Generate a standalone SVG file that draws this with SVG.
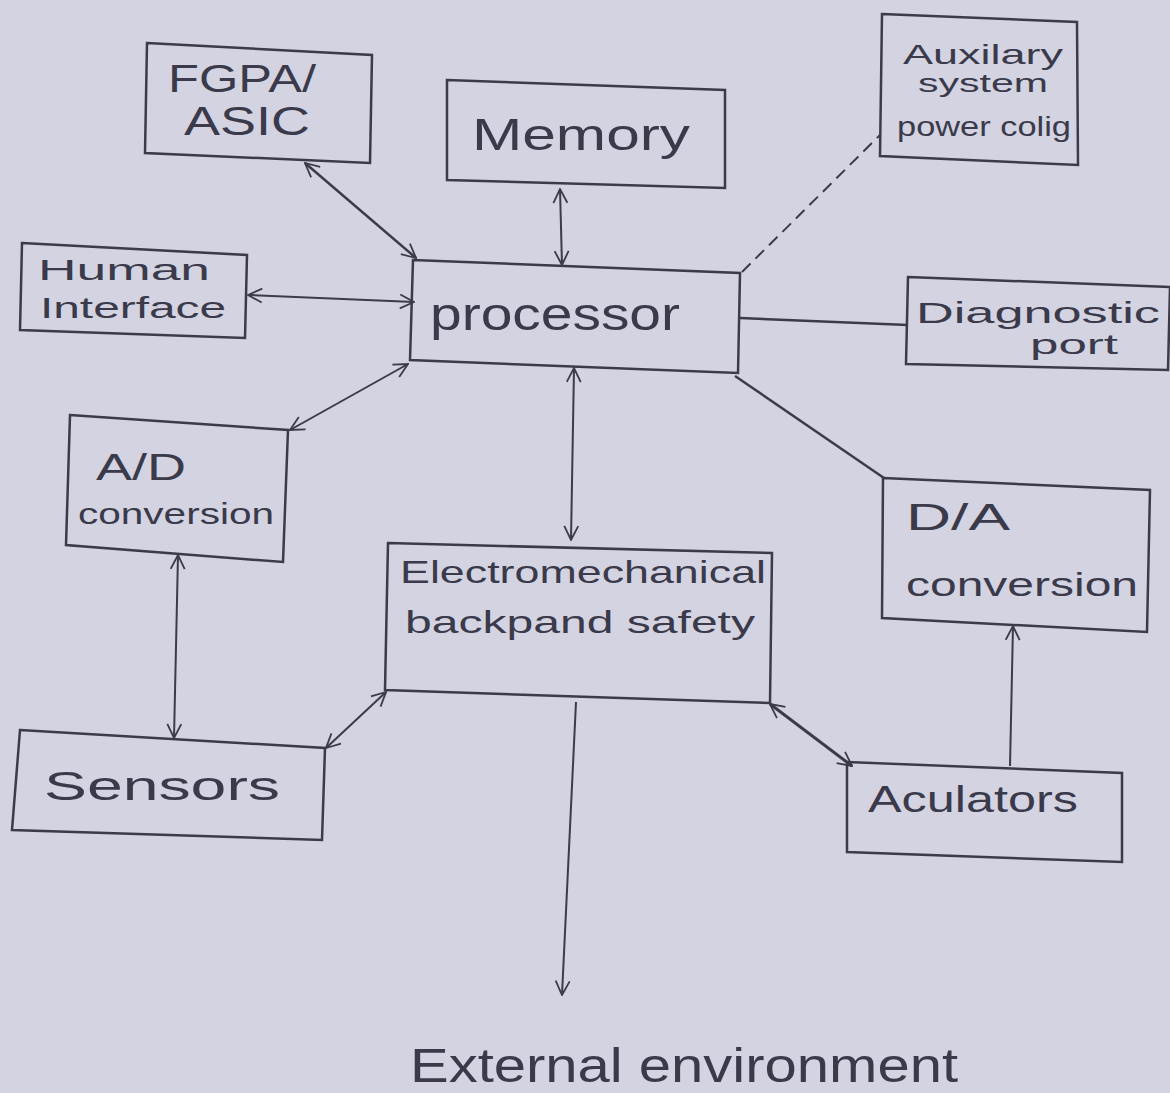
<svg xmlns="http://www.w3.org/2000/svg" width="1170" height="1093" viewBox="0 0 1170 1093">
<style>
.box{fill:none;stroke:#3b3b4a;stroke-width:2.5;stroke-linejoin:miter}
.ln{fill:none;stroke:#3b3b4a;stroke-width:2}
.dash{stroke-dasharray:12 7}
.t{font-family:"Liberation Sans","DejaVu Sans",sans-serif;fill:#3a3a4a}
</style>
<defs>
<marker id="ah" viewBox="0 0 16 16" refX="15" refY="8" markerWidth="16" markerHeight="16" markerUnits="userSpaceOnUse" orient="auto-start-reverse">
<path d="M1,1 L15,8 L1,15" fill="none" stroke="#3b3b4a" stroke-width="1.8"/>
</marker>
</defs>
<rect width="1170" height="1093" fill="#d3d3e2"/>

<g id="connectors">
<line class="ln" x1="305" y1="163" x2="416" y2="258" marker-start="url(#ah)" marker-end="url(#ah)" style="stroke-width:2.5"/>
<line class="ln" x1="560" y1="189" x2="562" y2="265" marker-start="url(#ah)" marker-end="url(#ah)"/>
<line class="ln" x1="248" y1="295" x2="414" y2="302" marker-start="url(#ah)" marker-end="url(#ah)"/>
<line class="ln dash" x1="742" y1="272" x2="880" y2="135"/>
<line class="ln" x1="740" y1="318" x2="908" y2="325" style="stroke-width:2.5"/>
<line class="ln" x1="408" y1="364" x2="290" y2="430" marker-start="url(#ah)" marker-end="url(#ah)"/>
<line class="ln" x1="574" y1="368" x2="571" y2="540" marker-start="url(#ah)" marker-end="url(#ah)"/>
<line class="ln" x1="735" y1="376" x2="884" y2="478" style="stroke-width:2.5"/>
<line class="ln" x1="178" y1="555" x2="174" y2="738" marker-start="url(#ah)" marker-end="url(#ah)"/>
<line class="ln" x1="386" y1="692" x2="326" y2="748" marker-start="url(#ah)" marker-end="url(#ah)"/>
<line class="ln" x1="770" y1="704" x2="852" y2="766" marker-start="url(#ah)" marker-end="url(#ah)" style="stroke-width:3"/>
<line class="ln" x1="1010" y1="766" x2="1013" y2="626" marker-end="url(#ah)"/>
<line class="ln" x1="576" y1="702" x2="562" y2="995" marker-end="url(#ah)"/>
</g>

<g id="fpga">
<path class="box" d="M147,43 L372,55 L370,163 L145,153 Z"/>
<text class="t" x="168" y="92" font-size="38" textLength="148" lengthAdjust="spacingAndGlyphs">FGPA/</text>
<text class="t" x="184" y="135" font-size="40" textLength="126" lengthAdjust="spacingAndGlyphs">ASIC</text>
</g>

<g id="memory">
<path class="box" d="M447,80 L725,90 L725,188 L447,180 Z"/>
<text class="t" x="472" y="150" font-size="44" textLength="218" lengthAdjust="spacingAndGlyphs">Memory</text>
</g>

<g id="auxiliary">
<path class="box" d="M882,14 L1077,22 L1078,165 L880,156 Z"/>
<text class="t" x="903" y="64" font-size="28" textLength="160" lengthAdjust="spacingAndGlyphs">Auxilary</text>
<text class="t" x="918" y="92" font-size="26" textLength="130" lengthAdjust="spacingAndGlyphs">system</text>
<text class="t" x="897" y="136" font-size="27" textLength="174" lengthAdjust="spacingAndGlyphs">power colig</text>
</g>

<g id="human">
<path class="box" d="M22,243 L247,255 L245,338 L20,330 Z"/>
<text class="t" x="38" y="280" font-size="30" textLength="172" lengthAdjust="spacingAndGlyphs">Human</text>
<text class="t" x="40" y="318" font-size="30" textLength="186" lengthAdjust="spacingAndGlyphs">Interface</text>
</g>

<g id="processor">
<path class="box" d="M413,260 L740,273 L738,373 L410,360 Z"/>
<text class="t" x="430" y="330" font-size="46" textLength="250" lengthAdjust="spacingAndGlyphs">processor</text>
</g>

<g id="diagnostic">
<path class="box" d="M908,277 L1170,287 L1168,370 L906,364 Z"/>
<text class="t" x="916" y="323" font-size="30" textLength="244" lengthAdjust="spacingAndGlyphs">Diagnostic</text>
<text class="t" x="1030" y="354" font-size="28" textLength="88" lengthAdjust="spacingAndGlyphs">port</text>
</g>

<g id="ad">
<path class="box" d="M70,415 L288,430 L283,562 L66,545 Z"/>
<text class="t" x="96" y="480" font-size="36" textLength="90" lengthAdjust="spacingAndGlyphs">A/D</text>
<text class="t" x="78" y="524" font-size="30" textLength="196" lengthAdjust="spacingAndGlyphs">conversion</text>
</g>

<g id="electromechanical">
<path class="box" d="M388,543 L772,553 L770,703 L385,690 Z"/>
<text class="t" x="400" y="583" font-size="32" textLength="366" lengthAdjust="spacingAndGlyphs">Electromechanical</text>
<text class="t" x="405" y="633" font-size="32" textLength="350" lengthAdjust="spacingAndGlyphs">backpand safety</text>
</g>

<g id="da">
<path class="box" d="M883,478 L1150,490 L1147,632 L882,618 Z"/>
<text class="t" x="906" y="530" font-size="36" textLength="104" lengthAdjust="spacingAndGlyphs">D/A</text>
<text class="t" x="906" y="596" font-size="34" textLength="232" lengthAdjust="spacingAndGlyphs">conversion</text>
</g>

<g id="sensors">
<path class="box" d="M20,730 L325,748 L322,840 L12,830 Z"/>
<text class="t" x="44" y="800" font-size="40" textLength="236" lengthAdjust="spacingAndGlyphs">Sensors</text>
</g>

<g id="aculators">
<path class="box" d="M847,762 L1122,773 L1122,862 L847,852 Z"/>
<text class="t" x="868" y="812" font-size="36" textLength="210" lengthAdjust="spacingAndGlyphs">Aculators</text>
</g>

<g id="external">
<text class="t" x="410" y="1082" font-size="48" textLength="548" lengthAdjust="spacingAndGlyphs">External environment</text>
</g>
</svg>
